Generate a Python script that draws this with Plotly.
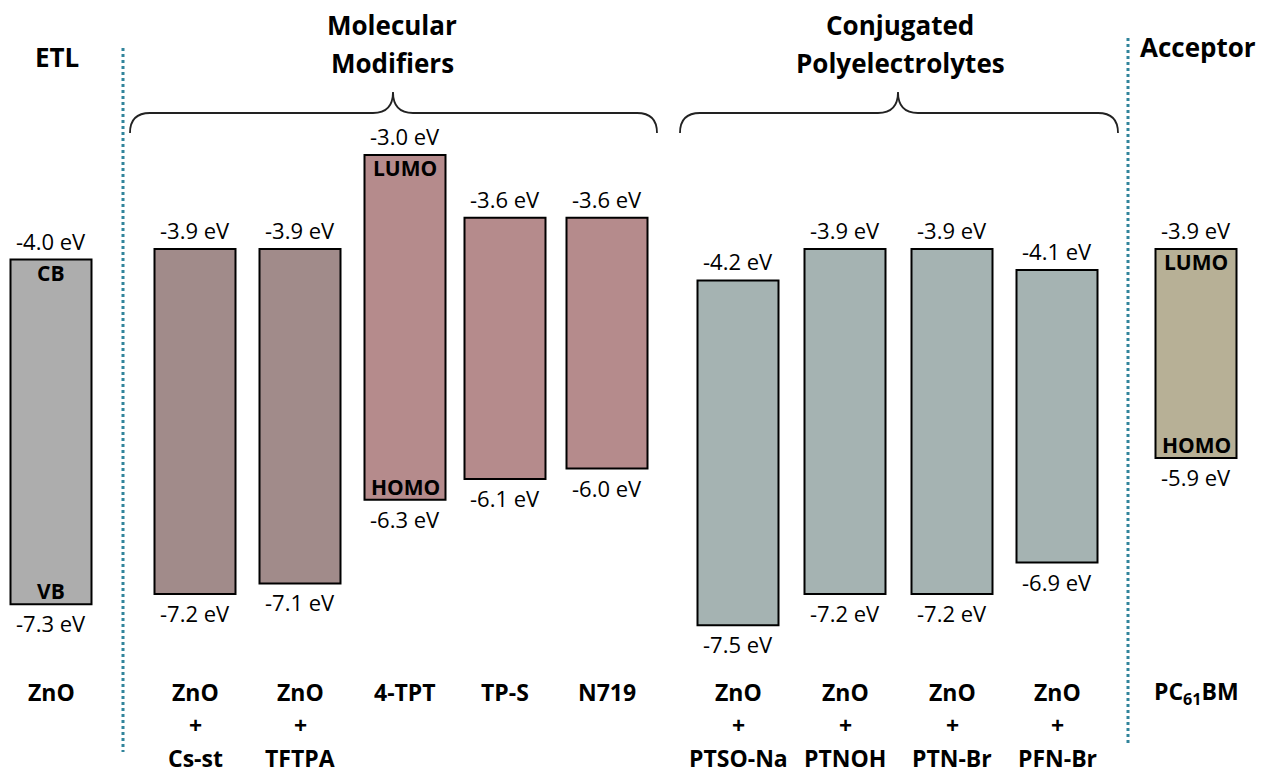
import plotly.graph_objects as go

# ---- data ----
materials = ["ZnO", "ZnO<br>+<br>Cs-st", "ZnO<br>+<br>TFTPA", "4-TPT", "TP-S", "N719",
             "ZnO<br>+<br>PTSO-Na", "ZnO<br>+<br>PTNOH", "ZnO<br>+<br>PTN-Br", "ZnO<br>+<br>PFN-Br",
             "PC<sub>61</sub>BM"]
upper_level = [-4.0, -3.9, -3.9, -3.0, -3.6, -3.6, -4.2, -3.9, -3.9, -4.1, -3.9]
lower_level = [-7.3, -7.2, -7.1, -6.3, -6.1, -6.0, -7.5, -7.2, -7.2, -6.9, -5.9]
groups = ["ETL", "MM1", "MM1", "MM2", "MM2", "MM2", "CPE", "CPE", "CPE", "CPE", "ACC"]
inner_top = ["CB", "", "", "LUMO", "", "", "", "", "", "", "LUMO"]
inner_bottom = ["VB", "", "", "HOMO", "", "", "", "", "", "", "HOMO"]
section_titles = ["ETL", "Molecular<br>Modifiers", "Conjugated<br>Polyelectrolytes", "Acceptor"]

# ---- layout / style ----
W, H = 1263, 776
x_pos = [51, 195, 300, 405, 505, 607, 738, 845, 952, 1057, 1196]
title_pos = [(57, 57), (392, 25), (900, 25), (1198, 47)]
colors = {"ETL": "#ADADAD", "MM1": "#A18B8A", "MM2": "#B58B8C", "CPE": "#A5B3B2", "ACC": "#B7B096"}
FONT = "Open Sans"
PX_PER_EV = 104.5
Y0_PX, Y0_V = 155, -3.0
y_top = Y0_V + Y0_PX / PX_PER_EV
y_bot = Y0_V - (H - Y0_PX) / PX_PER_EV


def py(p):  # pixel y -> paper
    return 1 - p / H


fig = go.Figure()
fig.add_trace(go.Bar(
    x=x_pos,
    base=upper_level,
    y=[lo - up for lo, up in zip(lower_level, upper_level)],
    width=81,
    marker=dict(color=[colors[g] for g in groups], line=dict(color="black", width=2)),
    hoverinfo="skip",
))

ann = []
for x, up, lo, t, b, name in zip(x_pos, upper_level, lower_level, inner_top, inner_bottom, materials):
    ann.append(dict(x=x, y=up, text=f"{up:.1f} eV", showarrow=False, yshift=19,
                    font=dict(size=22, color="black", family=FONT)))
    ann.append(dict(x=x, y=lo, text=f"{lo:.1f} eV", showarrow=False, yshift=-19,
                    font=dict(size=22, color="black", family=FONT)))
    if t:
        ann.append(dict(x=x, y=up, text=f"<b>{t}</b>", showarrow=False, yshift=-13,
                        font=dict(size=21, color="black", family=FONT)))
    if b:
        ann.append(dict(x=x, y=lo, text=f"<b>{b}</b>", showarrow=False, yshift=13,
                        font=dict(size=21, color="black", family=FONT)))
    for i, line in enumerate(name.split("<br>")):
        ann.append(dict(x=x, y=py(692 + 33 * i), yref="paper", text=f"<b>{line}</b>",
                        showarrow=False, yanchor="middle",
                        font=dict(size=23, color="black", family=FONT)))

for txt, (x, y) in zip(section_titles, title_pos):
    for i, line in enumerate(txt.split("<br>")):
        ann.append(dict(x=x, y=py(y + 38 * i), yref="paper", text=f"<b>{line}</b>",
                        showarrow=False, yanchor="middle",
                        font=dict(size=26, color="black", family=FONT)))


def brace(x0, xm, x1, ye=133, yl=113, yt=92, r=20):
    pts = [(x0, ye), (x0, yl), (x0 + r, yl), (xm - r, yl), (xm, yl), (xm, yt),
           (xm, yl), (xm + r, yl), (x1 - r, yl), (x1, yl), (x1, ye)]
    p = [(x, py(y)) for x, y in pts]
    return (f"M {p[0][0]} {p[0][1]} Q {p[1][0]} {p[1][1]} {p[2][0]} {p[2][1]} "
            f"L {p[3][0]} {p[3][1]} Q {p[4][0]} {p[4][1]} {p[5][0]} {p[5][1]} "
            f"Q {p[6][0]} {p[6][1]} {p[7][0]} {p[7][1]} L {p[8][0]} {p[8][1]} "
            f"Q {p[9][0]} {p[9][1]} {p[10][0]} {p[10][1]}")


shapes = [
    dict(type="path", xref="x", yref="paper", path=brace(130, 393, 657),
         line=dict(color="#222222", width=1.8)),
    dict(type="path", xref="x", yref="paper", path=brace(680, 898, 1118),
         line=dict(color="#222222", width=1.8)),
    dict(type="line", xref="x", yref="paper", x0=123, x1=123, y0=py(48), y1=py(752),
         line=dict(color="#31849B", width=3, dash="dot")),
    dict(type="line", xref="x", yref="paper", x0=1128, x1=1128, y0=py(38), y1=py(745),
         line=dict(color="#31849B", width=3, dash="dot")),
]

fig.update_layout(
    width=W, height=H, margin=dict(l=0, r=0, t=0, b=0),
    paper_bgcolor="white", plot_bgcolor="white", showlegend=False,
    xaxis=dict(range=[0, W], visible=False, fixedrange=True),
    yaxis=dict(range=[y_bot, y_top], visible=False, fixedrange=True),
    annotations=ann, shapes=shapes, font=dict(family=FONT),
)
fig.write_html("out.html")
